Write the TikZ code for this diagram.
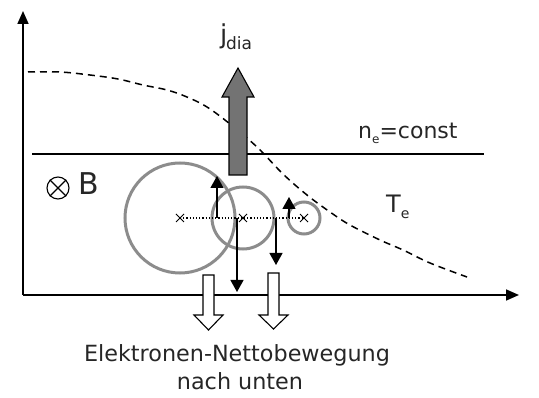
\documentclass[tikz,border=0pt]{standalone}
\usepackage{fontspec}
\setmainfont{DejaVu Sans}
\usetikzlibrary{arrows.meta,shapes.misc}
\begin{document}
\begin{tikzpicture}[x=1pt,y=-1pt,
  axis/.style={line width=1.6pt,-{Triangle[length=13pt,width=11pt]}},
  gyro/.style={circle,draw=black!45,line width=3pt,inner sep=0pt},
  centremark/.style={cross out,draw=black,line width=1pt,minimum size=7pt,inner sep=0pt},
  vec/.style={line width=1.2pt,-{Triangle[length=12pt,width=13pt]}},
  hollow/.style={draw=black,fill=white,line width=1.1pt},
  lbl/.style={inner sep=0pt,text=black!85}
]
\useasboundingbox (0,0) rectangle (539,398);
% axes
\coordinate (o) at (23,295);
\coordinate (ytop) at (23,11);
\coordinate (xend) at (519,295);
\draw[axis] (o) -- (ytop);
\draw[axis] (o) -- (xend);
% n_e = const line
\coordinate (nl) at (32,154);
\coordinate (nr) at (484,154);
\draw[line width=1.6pt] (nl) -- (nr);
\node[lbl,anchor=base west] (ne) at (358,139)
  {\fontsize{22}{22}\selectfont n\raisebox{-0.35ex}{\fontsize{12}{12}\selectfont e}=const};
% T_e dashed profile
\draw[dashed,line width=1.5pt,dash pattern=on 7pt off 5pt]
  plot[smooth,tension=0.6] coordinates {(28,72) (60,72) (90,75) (118,79) (143,85) (167,90)
  (187,97) (207,107) (230,124) (257,147) (283,174) (307,195) (330,212) (350,225)
  (380,240) (403,250) (430,263) (467,277)};
\node[lbl,anchor=base west] (te) at (386,213)
  {\fontsize{24}{24}\selectfont T\raisebox{-0.45ex}{\fontsize{14}{14}\selectfont e}};
% B symbol
\node[circle,draw=black,line width=1.1pt,minimum size=22pt,inner sep=0pt] (bsym) at (58,188) {};
\draw[line width=1.1pt] (bsym.north west) -- (bsym.south east);
\draw[line width=1.1pt] (bsym.north east) -- (bsym.south west);
\node[lbl,anchor=base west] (blbl) at (78,195) {\fontsize{30}{30}\selectfont B};
% gyration circles
\node[gyro,minimum size=110pt] (c1) at (180,218) {};
\node[gyro,minimum size=62pt] (c2) at (243,218) {};
\node[gyro,minimum size=32pt] (c3) at (304,218) {};
\draw[dotted,line width=1.2pt] (c1.center) -- (c3.center);
\node[centremark] (x1) at (c1.center) {};
\node[centremark] (x2) at (c2.center) {};
\node[centremark] (x3) at (c3.center) {};
% velocity arrows
\coordinate (v1s) at (217,218); \coordinate (v1e) at (217,176);
\coordinate (v2s) at (237,218); \coordinate (v2e) at (237,292);
\coordinate (v3s) at (276,218); \coordinate (v3e) at (276,265);
\coordinate (v4s) at (289,218); \coordinate (v4e) at (289,197);
\draw[vec] (v1s) -- (v1e);
\draw[vec] (v2s) -- (v2e);
\draw[vec] (v3s) -- (v3e);
\draw[vec] (v4s) -- (v4e);
% diamagnetic current arrow
\draw[draw=black,fill=black!55,line width=1.1pt]
  (229,175) -- (229,97) -- (222,97) -- (238,68) -- (254,97) -- (247,97) -- (247,175) -- cycle;
\node[lbl,anchor=base west] (jlbl) at (220,44) {\fontsize{26}{26}\selectfont j};
\node[lbl,anchor=base west] (dlbl) at (226,50) {\fontsize{17}{17}\selectfont dia};
% net electron motion arrows
\draw[hollow] (203,275) -- (214,275) -- (214,315) -- (223,315) -- (208.5,330) -- (194,315) -- (203,315) -- cycle;
\draw[hollow] (268,273) -- (279,273) -- (279,315) -- (288,315) -- (273.5,329) -- (259,315) -- (268,315) -- cycle;
\node[lbl,anchor=base] (t1) at (237,362) {\fontsize{22.3}{22.3}\selectfont Elektronen-Nettobewegung};
\node[lbl,anchor=base] (t2) at (240,390) {\fontsize{22.3}{22.3}\selectfont nach unten};
\end{tikzpicture}
\end{document}
